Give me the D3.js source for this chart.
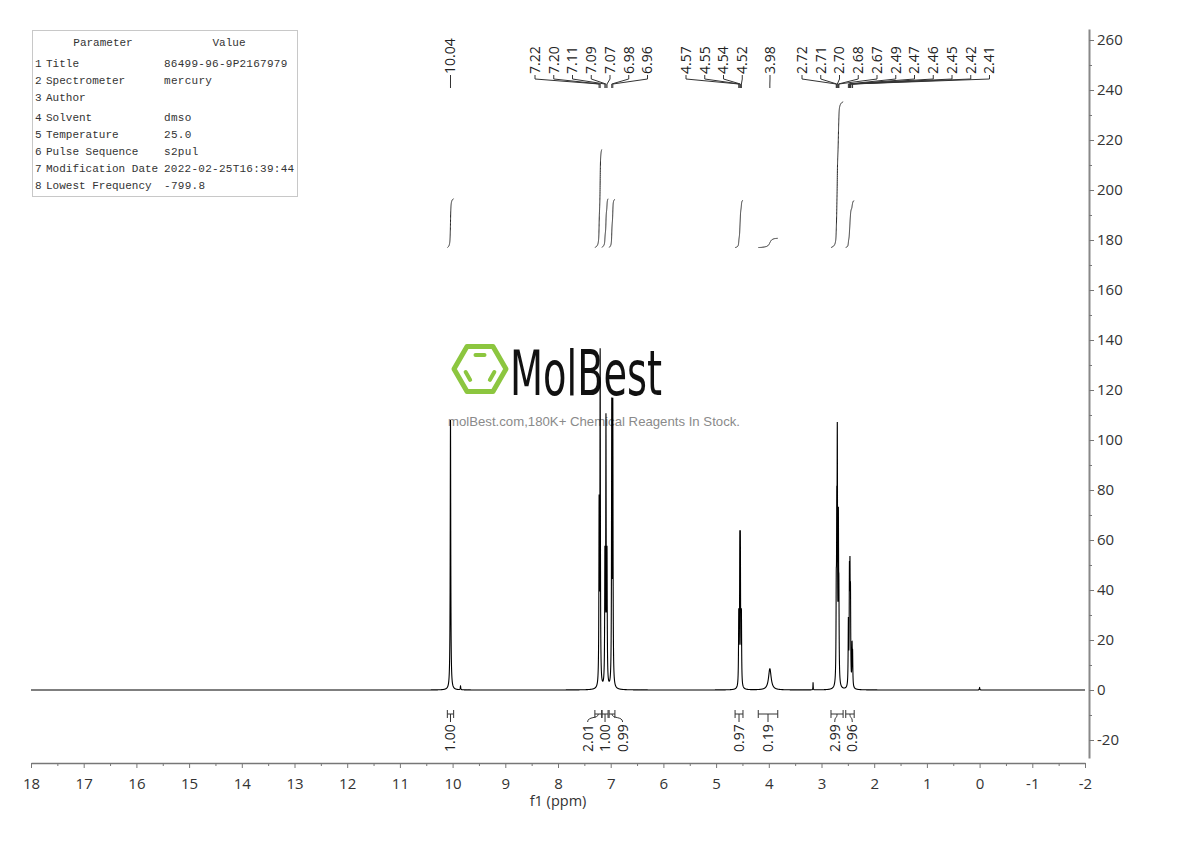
<!DOCTYPE html>
<html><head><meta charset="utf-8">
<script src="https://cdn.jsdelivr.net/npm/d3@7"></script>
<style>body{margin:0;background:#fff} svg{display:block}</style>
</head><body>
<svg id="c" width="1190" height="841"></svg>
<script>
// ---------- data ----------
const paramNames = ["Title","Spectrometer","Author","Solvent","Temperature","Pulse Sequence","Modification Date","Lowest Frequency"];
const paramValues = ["86499-96-9P2167979","mercury","","dmso","25.0","s2pul","2022-02-25T16:39:44","-799.8"];

const peakPpm    = [10.04, 9.85, 7.22, 7.20, 7.11, 7.09, 7.07, 6.98, 6.96, 4.57, 4.55, 4.54, 4.52, 3.98, 3.16, 2.72, 2.71, 2.70, 2.68, 2.67, 2.49, 2.47, 2.46, 2.45, 2.42, 2.41, 0.00];
const peakHeight = [108,   1.5,  70,   132,  50,   104,  50,   110,  110,  28,   51,   51,   28,   8.5,  3,    30,   55,   90,   60,   30,   25,   40,   38,   32,   15,   12,   1];
const peakWidth  = [0.006, 0.005,0.005,0.005,0.005,0.005,0.005,0.005,0.005,0.005,0.005,0.005,0.005,0.03, 0.003,0.005,0.005,0.005,0.005,0.005,0.005,0.005,0.005,0.005,0.005,0.005,0.005];

const peakLabelGroups = [[10.04],[7.22,7.20,7.11,7.09,7.07,6.98,6.96],[4.57,4.55,4.54,4.52],[3.98],[2.72,2.71,2.70,2.68,2.67,2.49,2.47,2.46,2.45,2.42,2.41]];

const integralFrom  = [10.10, 7.30, 7.165, 7.03, 4.64, 4.20, 2.82, 2.54];
const integralTo    = [9.98,  7.17, 7.05,  6.92, 4.49, 3.83, 2.59, 2.38];
const integralValue = [1.00,  2.01, 1.00,  0.99, 0.97, 0.19, 2.99, 0.96];

const xTicks = d3.range(-2, 18.001, 1);
const yTicks = d3.range(-20, 260.001, 20);

// ---------- layout ----------
const svg = d3.select("#c");
const x = d3.scaleLinear().domain([18, -2]).range([31, 1085]);
const y = d3.scaleLinear().domain([-27.2, 264.4]).range([758, 29]);
const labelGroupLeft = [450.5, 535, 686, 770, 802];
const labelStep = 18.75;
const integralBase = 177, integralScale = 19.5;
const fontAxis = "'Open Sans', 'Noto Sans', sans-serif";

// ---------- watermark ----------
const wm = svg.append("g");
const cx = 480, cy = 369, r = 26;
const hexPts = d3.range(6).map(i => [cx + r*Math.cos(i*Math.PI/3), cy + r*Math.sin(i*Math.PI/3)]);
wm.append("path").attr("d", "M" + hexPts.map(p => p.join(",")).join("L") + "Z")
  .attr("fill","none").attr("stroke","#8cc63f").attr("stroke-width",5).attr("stroke-linejoin","round");
[[4,5],[2,3],[0,1]].forEach(([a,b]) => {
  const s = 0.62, t0 = 0.22, t1 = 0.78;
  const pa = [cx + (hexPts[a][0]-cx)*s, cy + (hexPts[a][1]-cy)*s];
  const pb = [cx + (hexPts[b][0]-cx)*s, cy + (hexPts[b][1]-cy)*s];
  wm.append("line")
    .attr("x1", pa[0] + (pb[0]-pa[0])*t0).attr("y1", pa[1] + (pb[1]-pa[1])*t0)
    .attr("x2", pa[0] + (pb[0]-pa[0])*t1).attr("y2", pa[1] + (pb[1]-pa[1])*t1)
    .attr("stroke","#8cc63f").attr("stroke-width",4).attr("stroke-linecap","round");
});
wm.append("text").attr("x", 510).attr("y", 395).text("MolBest")
  .attr("font-family","'DejaVu Sans', sans-serif").attr("font-size", 62)
  .attr("textLength", 152).attr("lengthAdjust","spacingAndGlyphs").attr("fill","#111");
wm.append("text").attr("x", 448).attr("y", 426).text("molBest.com,180K+ Chemical Reagents In Stock.")
  .attr("font-family","'Liberation Sans', Arial, sans-serif").attr("font-size", 13)
  .attr("textLength", 292).attr("lengthAdjust","spacingAndGlyphs").attr("fill","#8a8a8a");

// ---------- parameter table ----------
const tbl = svg.append("g").attr("font-family","'Liberation Mono', monospace").attr("font-size", 11).attr("fill","#333");
tbl.append("rect").attr("x",32.5).attr("y",30.5).attr("width",265).attr("height",166)
  .attr("fill","#fff").attr("stroke","#c8c8c8");
tbl.append("text").attr("x",103).attr("y",46).attr("text-anchor","middle").text("Parameter");
tbl.append("text").attr("x",229).attr("y",46).attr("text-anchor","middle").text("Value");
paramNames.forEach((n,i) => {
  const yy = 67 + i*16.8 + (i >= 3 ? 4 : 0);
  tbl.append("text").attr("x",35).attr("y",yy).text(String(i+1));
  tbl.append("text").attr("x",46).attr("y",yy).text(n);
  tbl.append("text").attr("x",164).attr("y",yy).attr("textLength", paramValues[i] ? paramValues[i].length * 6.85 : null).text(paramValues[i]);
});

// ---------- spectrum ----------
function spec(p) {
  let s = 0;
  for (let i = 0; i < peakPpm.length; i++) {
    const d = p - peakPpm[i], w = peakWidth[i];
    s += peakHeight[i] * w * w / (d*d + w*w);
  }
  return s;
}
const N = 40000;
const grid = d3.range(0, N + 1).map(i => 18 - i * 20 / N);
const specData = grid.map(p => [p, spec(p)]);
const line = d3.line().x(d => x(d[0])).y(d => y(d[1]));
svg.append("path").attr("d", line(specData)).attr("fill","none").attr("stroke","#000").attr("stroke-width",1.1);

// ---------- integral curves ----------
integralValue.forEach((v, k) => {
  const seg = specData.filter(d => d[0] <= integralFrom[k] && d[0] >= integralTo[k]);
  let cum = 0; const c = seg.map(d => (cum += d[1]));
  const tot = cum || 1;
  const pts = seg.map((d, i) => [d[0], integralBase + v * integralScale * c[i] / tot]);
  svg.append("path").attr("d", line(pts)).attr("fill","none").attr("stroke","#222").attr("stroke-width",1);
});

// ---------- axes ----------
const axX = svg.append("g").attr("transform","translate(0,763)")
  .call(d3.axisBottom(x).tickValues(xTicks).tickFormat(d => String(d)).tickSize(5).tickSizeOuter(0).tickPadding(10));
svg.append("g").attr("transform","translate(0,763)")
  .call(d3.axisBottom(x).tickValues(d3.range(-1.5, 18, 1)).tickFormat("").tickSize(3).tickSizeOuter(0))
  .call(g => g.select(".domain").remove());
const axY = svg.append("g").attr("transform","translate(1089,0)")
  .call(d3.axisRight(y).tickValues(yTicks).tickFormat(d => String(d)).tickSize(5).tickSizeOuter(0).tickPadding(3));
svg.append("g").attr("transform","translate(1089,0)")
  .call(d3.axisRight(y).tickValues(d3.range(-10, 261, 20)).tickFormat("").tickSize(3).tickSizeOuter(0))
  .call(g => g.select(".domain").remove());
svg.selectAll(".tick line").attr("stroke","#777");
axX.select(".domain").attr("stroke","#777").attr("stroke-width",1.5);
axY.select(".domain").attr("stroke","#888").attr("stroke-width",2);
svg.selectAll(".tick text").attr("font-family", fontAxis).attr("font-size", 15).attr("fill","#333");
svg.append("text").attr("x", 558).attr("y", 806).attr("text-anchor","middle")
  .attr("font-family", fontAxis).attr("font-size", 14.5).attr("fill","#333").text("f1 (ppm)");

// ---------- peak labels ----------
const pl = svg.append("g");
peakLabelGroups.forEach((grp, gi) => {
  grp.forEach((ppm, j) => {
    const lx = labelGroupLeft[gi] + j * labelStep;
    const px = x(ppm);
    pl.append("text").attr("transform", `translate(${lx},74) rotate(-90)`).attr("dy","0.35em")
      .attr("font-family", fontAxis).attr("font-size", 14).attr("fill","#222").text(ppm.toFixed(2));
    pl.append("path").attr("d", `M${lx},75V79L${px},84V88`).attr("fill","none").attr("stroke","#333").attr("stroke-width",1);
  });
});

// ---------- integral labels ----------
const il = svg.append("g");
const centers = integralValue.map((v, k) => (x(integralFrom[k]) + x(integralTo[k])) / 2);
const minSp = 17.5;
let clusters = centers.map((c, k) => ({ idx: [k], mean: c }));
let merged = true;
const pos = cl => cl.idx.map((k, j) => cl.mean + (j - (cl.idx.length - 1) / 2) * minSp);
while (merged) {
  merged = false;
  for (let i = 0; i < clusters.length - 1; i++) {
    const a = pos(clusters[i]), b = pos(clusters[i+1]);
    if (b[0] - a[a.length-1] < minSp) {
      const idx = clusters[i].idx.concat(clusters[i+1].idx);
      clusters.splice(i, 2, { idx, mean: d3.mean(idx, k => centers[k]) });
      merged = true; break;
    }
  }
}
clusters.forEach(cl => {
  const ps = pos(cl);
  cl.idx.forEach((k, j) => {
    const xa = x(integralFrom[k]), xb = x(integralTo[k]), xc = centers[k], xl = ps[j];
    il.append("path").attr("d", `M${xa},710V718M${xa},714H${xb}M${xb},710V718`)
      .attr("fill","none").attr("stroke","#333").attr("stroke-width",1);
    il.append("path").attr("d", Math.abs(xl - xc) < 1 ? `M${xc},714V722` : `M${xc},714C${xc},719 ${xl},716 ${xl},722`)
      .attr("fill","none").attr("stroke","#333").attr("stroke-width",1);
    il.append("text").attr("transform", `translate(${xl},752) rotate(-90)`).attr("dy","0.35em")
      .attr("font-family", fontAxis).attr("font-size", 14).attr("fill","#222").text(integralValue[k].toFixed(2));
  });
});
</script>
</body></html>
